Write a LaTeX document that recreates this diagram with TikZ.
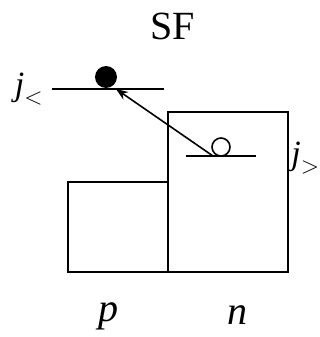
\documentclass[tikz,border=0pt]{standalone}
\usepackage{fontspec}
\setmainfont{Liberation Serif}
\usetikzlibrary{positioning,arrows.meta}
\tikzset{
  region/.style={draw,line width=1pt,inner sep=0pt,outer sep=0pt},
  level/.style={line width=1pt},
  full/.style={circle,fill=black,inner sep=0pt,minimum size=11pt},
  hole/.style={circle,draw,line width=0.8pt,inner sep=0pt,minimum size=9pt},
  lbl/.style={font=\fontsize{20}{24}\selectfont,inner sep=0pt},
  jlbl/.style={font=\fontsize{17}{20}\selectfont,inner sep=0pt},
  jump/.style={-{Stealth[length=6pt,width=4.5pt]},line width=0.8pt},
}
\begin{document}
\begin{tikzpicture}[x=0.5pt,y=-0.5pt]
  \useasboundingbox (0,0) rectangle (320,337);
  % title
  \node[lbl] (title) at (173,26) {SF};
  % p and n regions
  \node[region,minimum width=60pt,minimum height=80pt] (nreg) at (228,192) {};
  \node[region,minimum width=50pt,minimum height=45pt] (preg) at (118,227) {};
  \node[lbl] (plab) at (108,316) {\textit{p}};
  \node[lbl] (nlab) at (237,315) {\textit{n}};
  % levels
  \coordinate (upl) at (52,89);
  \coordinate (upr) at (164,89);
  \coordinate (lowl) at (186,156);
  \coordinate (lowr) at (256,156);
  \draw[level] (upl) -- (upr);
  \draw[level] (lowl) -- (lowr);
  \node[jlbl,left=4pt of upl] (jlt) {$\textit{j}_<$};
  \node[jlbl,anchor=west] (jgt) at (291,158) {$\textit{j}_>$};
  % particle and hole
  \node[full] (ball) at (106,77) {};
  \node[hole] (empty) at (221,147) {};
  \coordinate (from) at (213,156);
  \coordinate (to) at (116,89);
  \draw[jump] (from) -- (to);
\end{tikzpicture}
\end{document}
